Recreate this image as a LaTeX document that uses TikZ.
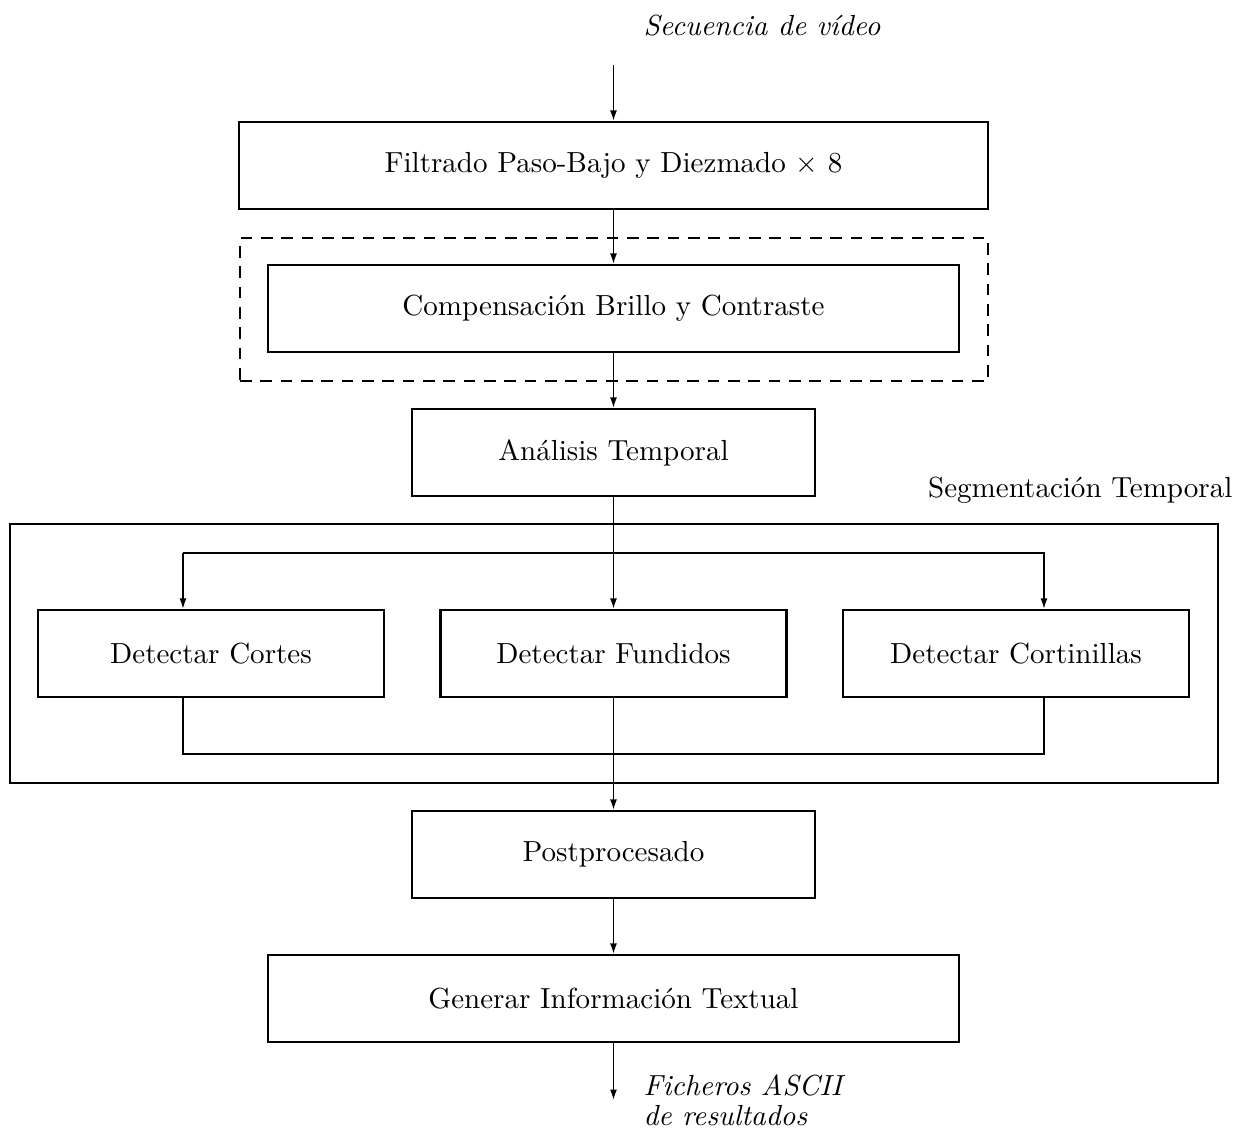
\documentclass[tikz,border=0pt]{standalone}
\usetikzlibrary{arrows.meta}
\begin{document}
\begin{tikzpicture}[x=0.0121cm, y=-0.0121cm,
    caja/.style={draw, line width=0.8pt, inner sep=0pt, minimum height=1.053cm},
    flecha/.style={line width=0.5pt, -{Latex[length=3.6pt,width=2.4pt]}},
    linea/.style={line width=0.5pt},
    marco/.style={draw, line width=0.8pt, inner sep=0pt}]
      \useasboundingbox (0,0) rectangle (1251,1133);
%     entrada y salida
      \node[anchor=base west, font=\itshape, inner sep=0pt] (entrada) at (643,35) {Secuencia de v\'ideo};
      \coordinate (vin) at (613.5,65);
      \coordinate (vout) at (613.5,1100);
      \node[anchor=base west, font=\itshape\fontsize{10}{10.3}\selectfont, align=left, inner sep=0pt] (salida) at (643,1125)
          {Ficheros ASCII\\de resultados};
%     bloques principales
      \node[caja, minimum width=9.063cm] (filtrado) at (613.5,165.5) {Filtrado Paso-Bajo y Diezmado $\times$ 8};
      \node[marco, dash pattern=on 4pt off 3pt, minimum width=9.051cm, minimum height=1.730cm] (compframe) at (614,309.5) {};
      \node[caja, minimum width=8.361cm] (compensa) at (613.5,308.5) {Compensaci\'on Brillo y Contraste};
      \node[caja, minimum width=4.876cm] (analisis) at (613.5,452.5) {An\'alisis Temporal};
%     segmentacion temporal
      \node[marco, minimum width=14.617cm, minimum height=3.134cm] (segframe) at (614,653.5) {};
      \node[anchor=base east, inner sep=0pt] (seglabel) at (1233,497) {Segmentaci\'on Temporal};
      \node[caja, minimum width=4.187cm] (cortes) at (211,653.5) {Detectar Cortes};
      \node[caja, minimum width=4.187cm] (fundidos) at (613.5,653.5) {Detectar Fundidos};
      \node[caja, minimum width=4.187cm] (cortinillas) at (1016,653.5) {Detectar Cortinillas};
      \node[caja, minimum width=4.876cm] (postproc) at (613.5,854.5) {Postprocesado};
      \node[caja, minimum width=8.361cm] (generar) at (613.5,998.5) {Generar Informaci\'on Textual};
%     conexiones
      \coordinate (izq) at (183,553);
      \coordinate (der) at (1044,553);
      \coordinate (izqb) at (183,754);
      \coordinate (derb) at (1044,754);
      \draw[flecha] (vin) -- (filtrado.north);
      \draw[flecha] (filtrado.south) -- (compensa.north);
      \draw[flecha] (compensa.south) -- (analisis.north);
      \draw[flecha] (analisis.south) -- (fundidos.north);
      \draw[flecha] (izq) -- (der -| fundidos) (izq) -- (izq |- cortes.north);
      \draw[flecha] (der -| fundidos) -- (der) -- (der |- cortinillas.north);
      \draw[linea] (cortes.south -| izqb) -- (izqb) -- (derb) -- (cortinillas.south -| derb);
      \draw[flecha] (fundidos.south) -- (postproc.north);
      \draw[flecha] (postproc.south) -- (generar.north);
      \draw[flecha] (generar.south) -- (vout);
    \end{tikzpicture}
\end{document}
